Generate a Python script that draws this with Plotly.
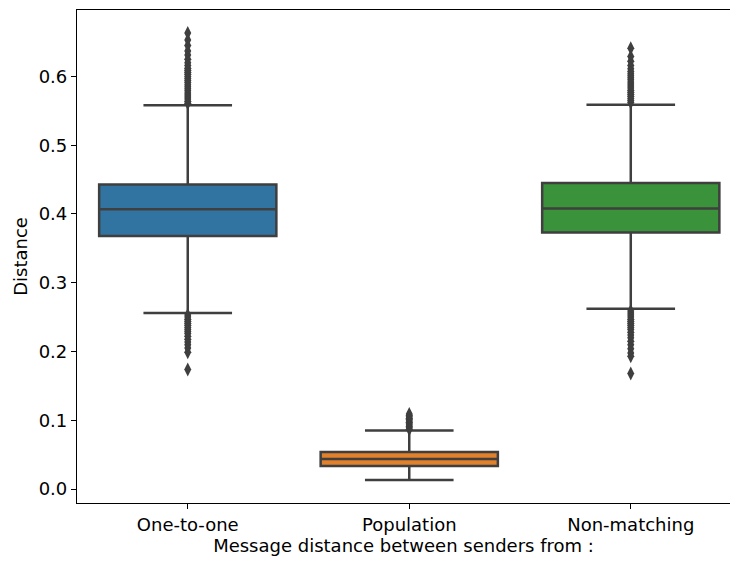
import plotly.graph_objects as go

categories = ["One-to-one", "Population", "Non-matching"]
positions = [0, 1, 2]
colors = ["#3274a1", "#e1812c", "#3a923a"]

q1 = [0.368, 0.0334, 0.373]
median = [0.407, 0.0436, 0.408]
q3 = [0.443, 0.054, 0.445]
lowerfence = [0.256, 0.013, 0.262]
upperfence = [0.558, 0.085, 0.559]

outliers_one = [0.561, 0.564, 0.567, 0.570, 0.573, 0.576, 0.579, 0.582, 0.585, 0.588,
                0.591, 0.594, 0.597, 0.600, 0.603, 0.606, 0.609, 0.612, 0.616, 0.620,
                0.625, 0.631, 0.637, 0.645, 0.653, 0.663,
                0.253, 0.250, 0.247, 0.244, 0.241, 0.238, 0.235, 0.232, 0.229, 0.226,
                0.222, 0.218, 0.214, 0.210, 0.205, 0.199, 0.174]
outliers_pop = [0.087, 0.089, 0.091, 0.093, 0.095, 0.097, 0.099, 0.101, 0.103, 0.105,
                0.107, 0.109]
outliers_non = [0.562, 0.565, 0.568, 0.571, 0.574, 0.577, 0.580, 0.583, 0.586, 0.589,
                0.592, 0.595, 0.598, 0.601, 0.604, 0.607, 0.611, 0.616, 0.622, 0.629, 0.641,
                0.259, 0.256, 0.253, 0.250, 0.247, 0.244, 0.241, 0.238, 0.235, 0.232,
                0.228, 0.224, 0.220, 0.215, 0.210, 0.204, 0.198, 0.193, 0.168]
outliers = [outliers_one, outliers_pop, outliers_non]

line_color = "#3f3f3f"

fig = go.Figure()
for i in range(3):
    fig.add_trace(go.Box(
        x=[positions[i]], q1=[q1[i]], median=[median[i]], q3=[q3[i]],
        lowerfence=[lowerfence[i]], upperfence=[upperfence[i]],
        width=0.8, whiskerwidth=0.5,
        fillcolor=colors[i], line=dict(color=line_color, width=2.5),
        boxpoints=False, showlegend=False, hoverinfo="skip",
    ))
    fig.add_trace(go.Scatter(
        x=[positions[i]] * len(outliers[i]), y=outliers[i], mode="markers",
        marker=dict(symbol="diamond-tall", size=10, color=line_color,
                    line=dict(width=0)),
        showlegend=False, hoverinfo="skip",
    ))

fsize = 18
font = dict(family="DejaVu Sans", size=fsize, color="#000000")
fig.update_layout(
    width=730, height=561,
    margin=dict(l=77, r=0, t=10, b=58),
    paper_bgcolor="white", plot_bgcolor="white",
    font=font,
    xaxis=dict(
        range=[-0.5, 2.448], tickmode="array", tickvals=positions, ticktext=categories,
        tickfont=font,
        showline=True, linecolor="#000000", linewidth=1.2, mirror=True,
        ticks="outside", ticklen=5, tickcolor="#000000", showgrid=False, zeroline=False,
        title=dict(text="Message distance between senders from :", standoff=2, font=font),
    ),
    yaxis=dict(
        range=[-0.0203, 0.6966], tickvals=[0.0, 0.1, 0.2, 0.3, 0.4, 0.5, 0.6],
        tickformat=".1f", tickfont=font,
        showline=True, linecolor="#000000", linewidth=1.2, mirror=False,
        ticks="outside", ticklen=5, tickcolor="#000000", showgrid=False, zeroline=False,
        title=dict(text="Distance", standoff=6, font=font),
    ),
)

fig.write_html("out.html")
